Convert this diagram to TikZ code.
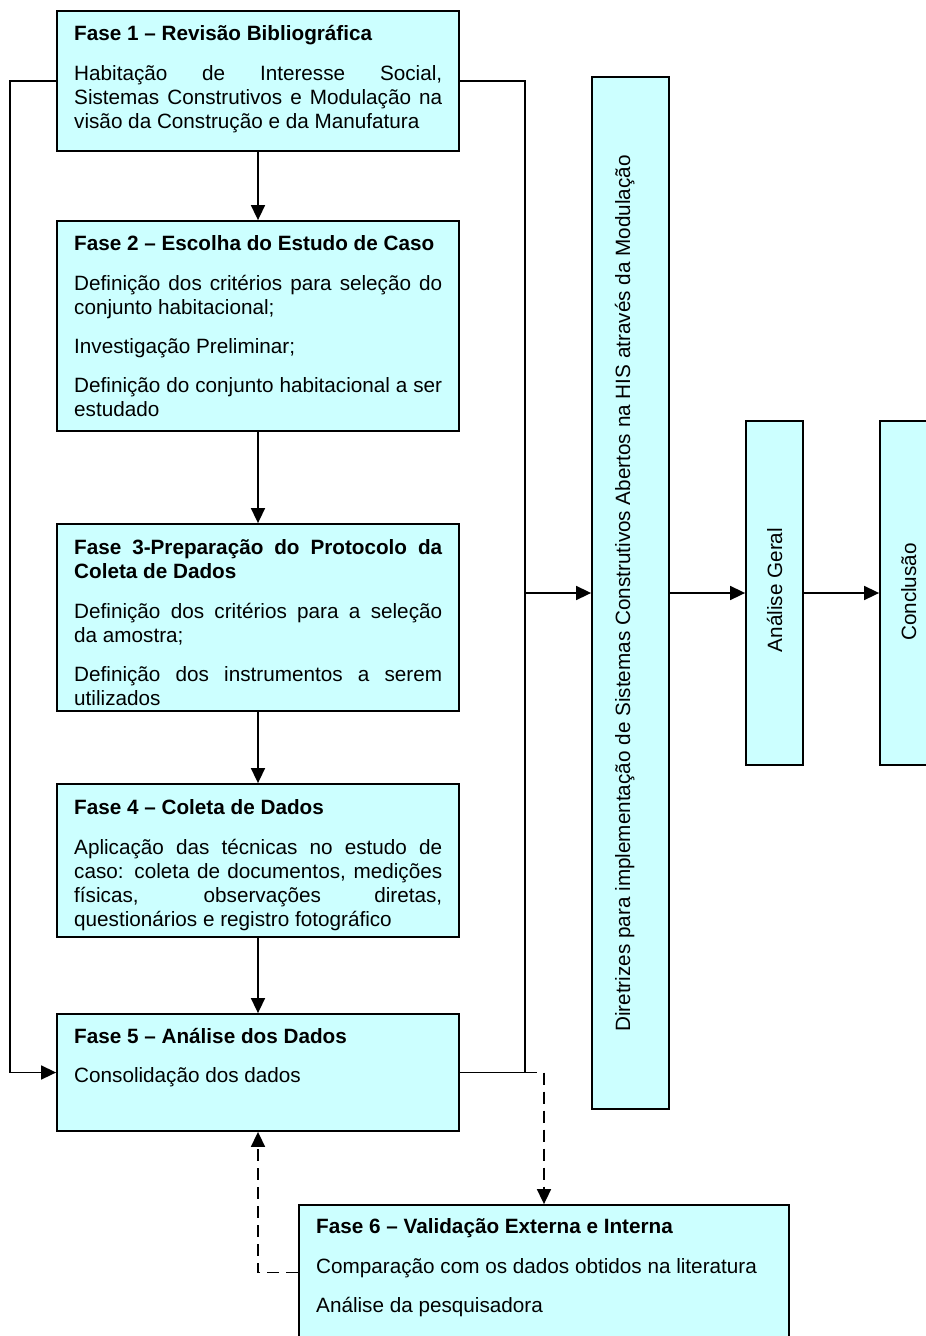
\documentclass[tikz,border=0pt]{standalone}
\usepackage{fontspec}
\setmainfont{Liberation Sans}
\usetikzlibrary{arrows.meta}
% one justified line of fixed width
\newcommand\jline[1]{\makebox[368pt][s]{#1}}
\tikzset{
  x=1pt, y=-1pt,
  phasebox/.style={draw=black, line width=1.8pt, fill=phasecyan, rectangle, inner sep=0pt},
  txt/.style={inner sep=0pt, anchor=base west, font=\fontsize{20.7pt}{24pt}\selectfont},
  vtxt/.style={inner sep=0pt, anchor=base, rotate=90, font=\fontsize{20.7pt}{24pt}\selectfont},
  conn/.style={line width=1.6pt, black},
  arr/.style={conn, -{Triangle[length=15pt,width=14pt]}},
  dsh/.style={conn, dash pattern=on 12pt off 7pt},
}
\definecolor{phasecyan}{HTML}{CCFFFF}
\begin{document}
\begin{tikzpicture}
\useasboundingbox (0,0) rectangle (926,1336);

% ---- boxes ----
\node[phasebox, minimum width=402pt, minimum height=140pt] (f1) at (258,81) {};
\node[phasebox, minimum width=402pt, minimum height=210pt] (f2) at (258,326) {};
\node[phasebox, minimum width=402pt, minimum height=187pt] (f3) at (258,617.5) {};
\node[phasebox, minimum width=402pt, minimum height=153pt] (f4) at (258,860.5) {};
\node[phasebox, minimum width=402pt, minimum height=117pt] (f5) at (258,1072.5) {};
\node[phasebox, minimum width=490pt, minimum height=135pt] (f6) at (544,1272.5) {};
\node[phasebox, minimum width=77pt, minimum height=1032pt] (dir) at (630.5,593) {};
\node[phasebox, minimum width=57pt, minimum height=344pt] (ag) at (774.5,593) {};
\node[phasebox, minimum width=57pt, minimum height=344pt] (con) at (908.5,593) {};

% ---- texts: Fase 1 ----
\node[txt] (t1a) at (74,40) {\bfseries Fase 1 – Revisão Bibliográfica};
\node[txt] (t1b) at (74,80) {\jline{Habitação de Interesse Social,}};
\node[txt] (t1c) at (74,104) {\jline{Sistemas Construtivos e Modulação na}};
\node[txt] (t1d) at (74,128) {visão da Construção e da Manufatura};

% ---- Fase 2 ----
\node[txt] (t2a) at (74,250) {\bfseries Fase 2 – Escolha do Estudo de Caso};
\node[txt] (t2b) at (74,290) {\jline{Definição dos critérios para seleção do}};
\node[txt] (t2c) at (74,314) {conjunto habitacional;};
\node[txt] (t2d) at (74,353) {Investigação Preliminar;};
\node[txt] (t2e) at (74,392) {\jline{Definição do conjunto habitacional a ser}};
\node[txt] (t2f) at (74,416) {estudado};

% ---- Fase 3 ----
\node[txt] (t3a) at (74,554) {\bfseries\jline{Fase 3-Preparação do Protocolo da}};
\node[txt] (t3b) at (74,578) {\bfseries Coleta de Dados};
\node[txt] (t3c) at (74,618) {\jline{Definição dos critérios para a seleção}};
\node[txt] (t3d) at (74,642) {da amostra;};
\node[txt] (t3e) at (74,681) {\jline{Definição dos instrumentos a serem}};
\node[txt] (t3f) at (74,705) {utilizados};

% ---- Fase 4 ----
\node[txt] (t4a) at (74,814) {\bfseries Fase 4 – Coleta de Dados};
\node[txt] (t4b) at (74,854) {\jline{Aplicação das técnicas no estudo de}};
\node[txt] (t4c) at (74,878) {\jline{caso: coleta de documentos, medições}};
\node[txt] (t4d) at (74,902) {\jline{físicas, observações diretas,}};
\node[txt] (t4e) at (74,926) {questionários e registro fotográfico};

% ---- Fase 5 ----
\node[txt] (t5a) at (74,1043) {\bfseries Fase 5 – Análise dos Dados};
\node[txt] (t5b) at (74,1082) {Consolidação dos dados};

% ---- Fase 6 ----
\node[txt] (t6a) at (316,1233) {\bfseries Fase 6 – Validação Externa e Interna};
\node[txt] (t6b) at (316,1273) {Comparação com os dados obtidos na literatura};
\node[txt] (t6c) at (316,1312) {Análise da pesquisadora};

% ---- vertical labels ----
\node[vtxt] (tdir) at (630,593.5) {Diretrizes para implementação de Sistemas Construtivos Abertos na HIS através da Modulação};
\node[vtxt] (tag) at (782,590) {Análise Geral};
\node[vtxt] (tcon) at (916,592) {Conclusão};

% ---- connectors ----
\draw[arr] (f1.south) -- (f2.north);
\draw[arr] (f2.south) -- (f3.north);
\draw[arr] (f3.south) -- (f4.north);
\draw[arr] (f4.south) -- (f5.north);

% left return line from phase 1 to phase 5
\coordinate (jl) at (10,593);
\draw[arr] (f1.west) -| (jl) |- (f5.west);

% right collector towards the guidelines
\coordinate (jr) at (525,593);
\draw[conn] (f1.east) -| (jr) |- (f5.east);
\draw[arr] (jr) -- (dir.west);
\draw[arr] (dir.east) -- (ag.west);
\draw[arr] (ag.east) -- (con.west);

% validation loop
\draw[dsh, -{Triangle[length=15pt,width=14pt]}] (f5.east -| jr) -| (f6.north);
\draw[dsh, -{Triangle[length=15pt,width=14pt]}] (f6.west) -| (f5.south);
\end{tikzpicture}
\end{document}
